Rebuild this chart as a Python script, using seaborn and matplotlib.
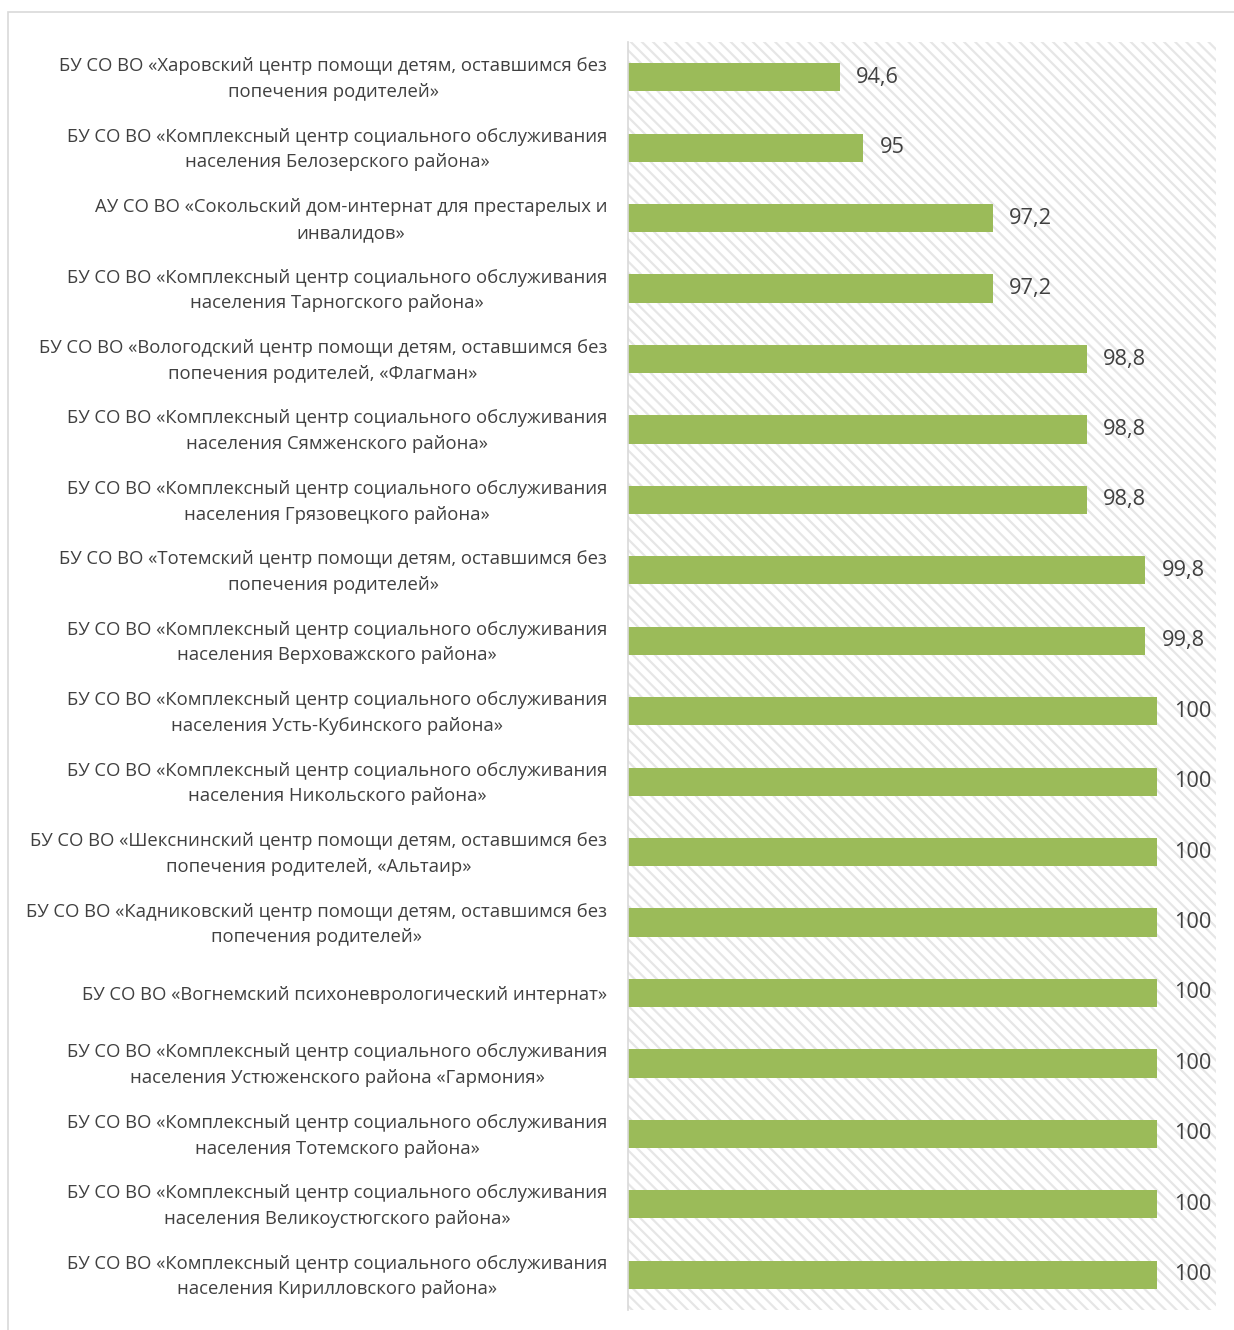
import matplotlib
matplotlib.use("Agg")
import matplotlib.pyplot as plt
import matplotlib.transforms as mtransforms
import seaborn as sns
import pandas as pd
from matplotlib.patches import Rectangle

# data
institutions = [
    "БУ СО ВО «Харовский центр помощи детям, оставшимся без\nпопечения родителей»",
    "БУ СО ВО «Комплексный центр социального обслуживания\nнаселения Белозерского района»",
    "АУ СО ВО «Сокольский дом-интернат для престарелых и\nинвалидов»",
    "БУ СО ВО «Комплексный центр социального обслуживания\nнаселения Тарногского района»",
    "БУ СО ВО «Вологодский центр помощи детям, оставшимся без\nпопечения родителей, «Флагман»",
    "БУ СО ВО «Комплексный центр социального обслуживания\nнаселения Сямженского района»",
    "БУ СО ВО «Комплексный центр социального обслуживания\nнаселения Грязовецкого района»",
    "БУ СО ВО «Тотемский центр помощи детям, оставшимся без\nпопечения родителей»",
    "БУ СО ВО «Комплексный центр социального обслуживания\nнаселения Верховажского района»",
    "БУ СО ВО «Комплексный центр социального обслуживания\nнаселения Усть-Кубинского района»",
    "БУ СО ВО «Комплексный центр социального обслуживания\nнаселения Никольского района»",
    "БУ СО ВО «Шекснинский центр помощи детям, оставшимся без\nпопечения родителей, «Альтаир»",
    "БУ СО ВО «Кадниковский центр помощи детям, оставшимся без\nпопечения родителей»",
    "БУ СО ВО «Вогнемский психоневрологический интернат»",
    "БУ СО ВО «Комплексный центр социального обслуживания\nнаселения Устюженского района «Гармония»",
    "БУ СО ВО «Комплексный центр социального обслуживания\nнаселения Тотемского района»",
    "БУ СО ВО «Комплексный центр социального обслуживания\nнаселения Великоустюгского района»",
    "БУ СО ВО «Комплексный центр социального обслуживания\nнаселения Кирилловского района»",
]
scores = [94.6, 95, 97.2, 97.2, 98.8, 98.8, 98.8, 99.8, 99.8,
          100, 100, 100, 100, 100, 100, 100, 100, 100]

df = pd.DataFrame({"name": institutions, "score": scores})

sns.set_theme(style="white")
plt.rcParams["font.family"] = ["Open Sans", "DejaVu Sans"]
plt.rcParams["hatch.linewidth"] = 1.6
plt.rcParams["hatch.color"] = "#e6e6e6"

fig = plt.figure(figsize=(12.34, 13.3), dpi=100)
ax = fig.add_axes([628 / 1234, 20 / 1330, 588 / 1234, 1268 / 1330])

# hatched plot background
bg = Rectangle((0, 0), 1, 1, transform=ax.transAxes, facecolor="white",
               edgecolor="#e6e6e6", linewidth=0, hatch="\\" * 3, zorder=0)
ax.add_patch(bg)

sns.barplot(data=df, x="score", y="name", orient="h", color="#9bbb59",
            saturation=1, width=0.4, linewidth=0, ax=ax, zorder=2)

ax.set_xlim(91, 101)
ax.set_ylim(17.5, -0.5)
ax.set_xlabel("")
ax.set_ylabel("")
ax.set_xticks([])
ax.tick_params(axis="y", length=0, pad=15, labelsize=13.3, labelcolor="#404040")

# two-line labels sit a little above the bar centre
shift = mtransforms.ScaledTranslation(0, 4 / 100, fig.dpi_scale_trans)
for lbl in ax.get_yticklabels():
    lbl.set_multialignment("center")
    lbl.set_linespacing(1.55)
    if "\n" in lbl.get_text():
        lbl.set_transform(lbl.get_transform() + shift)

for s in ["top", "right", "bottom"]:
    ax.spines[s].set_visible(False)
ax.spines["left"].set_color("#d9d9d9")
ax.spines["left"].set_linewidth(1.2)

labels = [f"{v:g}".replace(".", ",") for v in scores]
ax.bar_label(ax.containers[0], labels=labels, padding=12,
             fontsize=15.7, color="#404040")

# outer frame
fig.patches.append(Rectangle((8 / 1234, -0.01), 1.1, 1 - 12 / 1330 + 0.01,
                             transform=fig.transFigure, fill=False,
                             edgecolor="#d9d9d9", linewidth=1.2))

fig.savefig("out.png", dpi=100)
